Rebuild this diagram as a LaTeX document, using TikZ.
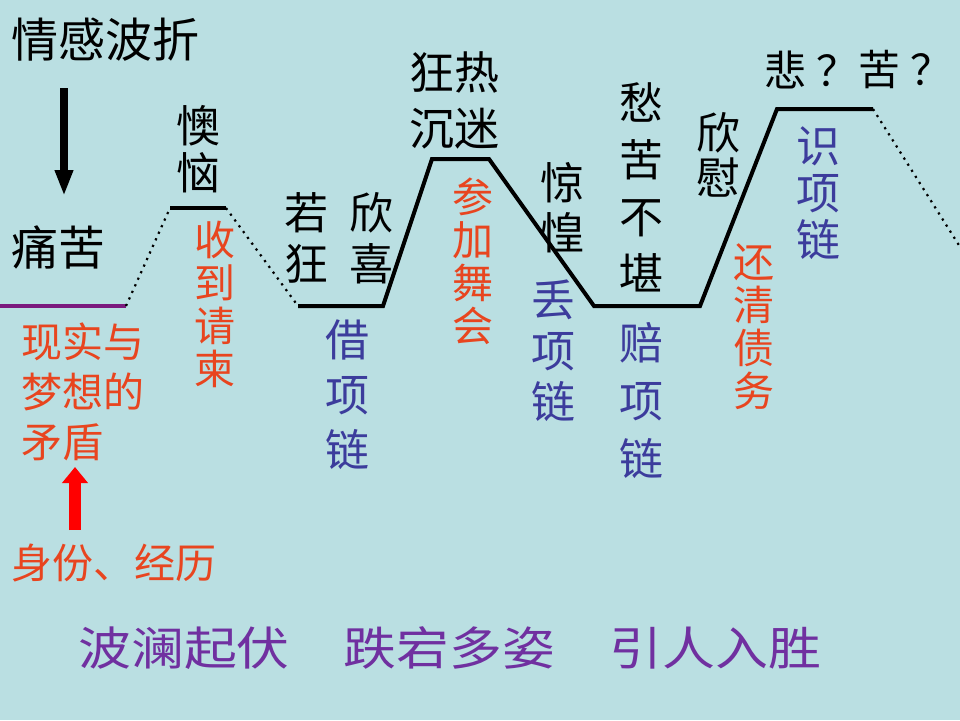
\documentclass[tikz,border=0pt]{standalone}
\usepackage{fontspec}
\setmainfont{Noto Sans CJK SC}
\usetikzlibrary{arrows.meta}
\definecolor{bg}{HTML}{BADFE2}
\definecolor{redtxt}{HTML}{E8451F}
\definecolor{bluetxt}{HTML}{3C3C9C}
\definecolor{purp}{HTML}{7030A0}
\definecolor{linepurp}{HTML}{7B1A7E}
\tikzset{
  lbl/.style={inner sep=0pt, font=\fontsize{44}{44}\selectfont},
  vlbl/.style={inner sep=0pt, align=center, font=\fontsize{44}{#1}\selectfont},
  vlbl/.default=46,
  redv/.style={text=redtxt, font=\fontsize{41}{#1}\selectfont},
  redv/.default=43,
  solidline/.style={line width=4pt, line join=miter},
  dotline/.style={line width=2.2pt, dash pattern=on 2.2pt off 5pt},
}
\begin{document}
\begin{tikzpicture}[x=1pt,y=-1pt]
\fill[bg] (0,0) rectangle (960,720);
\useasboundingbox (0,0) rectangle (960,720);

% curve coordinates
\coordinate (p0) at (0,306);
\coordinate (p1) at (126,306);
\coordinate (p2) at (170,208);
\coordinate (p3) at (226,208);
\coordinate (p4) at (298,306);
\coordinate (p5) at (383,306);
\coordinate (p6) at (432,159);
\coordinate (p7) at (489,159);
\coordinate (p8) at (594,306);
\coordinate (p9) at (700,306);
\coordinate (p10) at (777,109);
\coordinate (p11) at (873,109);
\coordinate (p12) at (962,250);

\draw[line width=4pt, linepurp] (p0) -- (p1);
\draw[dotline] (p1) -- (p2);
\draw[solidline] (p2) -- (p3);
\draw[dotline] (p3) -- (p4);
\draw[solidline] (p4) -- (p5) -- (p6) -- (p7) -- (p8) -- (p9) -- (p10) -- (p11);
\draw[dotline] (p11) -- (p12);

% title and black arrow
\node[lbl, anchor=west, font=\fontsize{47}{47}\selectfont] (title) at (11,40) {情感波折};
\coordinate (bs) at (64,88);
\coordinate (be) at (64,196);
\draw[line width=8pt, -{Triangle[width=17pt,length=26pt]}] (bs) -- (be);

% left labels
\node[lbl, anchor=west, font=\fontsize{47}{47}\selectfont] (tongku) at (11,247) {痛苦};
\node[lbl, anchor=west, text=redtxt, align=left, font=\fontsize{41}{50}\selectfont] (xianshi) at (21,392) {现实与\\梦想的\\矛盾};
\coordinate (ra) at (75,530);
\coordinate (rb) at (75,467);
\draw[red, line width=12pt, -{Triangle[width=25pt,length=16pt]}] (ra) -- (rb);
\node[lbl, anchor=west, text=redtxt, font=\fontsize{41}{41}\selectfont] (shenfen) at (11,563) {身份、经历};

% upper labels
\node[vlbl=47] (aonao) at (198,149) {懊\\恼};
\node[vlbl, redv] (shoudao) at (215,304) {收\\到\\请\\柬};
\node[vlbl=51] (ruokuang) at (306,238) {若\\狂};
\node[vlbl=51] (xinxi) at (371,238) {欣\\喜};
\node[vlbl=55, text=bluetxt] (jie) at (347,395) {借\\项\\链};
\node[lbl, align=center, font=\fontsize{45}{56}\selectfont] (kuangre) at (454,100) {狂热\\沉迷};
\node[vlbl, redv] (canjia) at (473,261) {参\\加\\舞\\会};
\node[vlbl=50] (jinghuang) at (562,208) {惊\\惶};
\node[vlbl=51, text=bluetxt] (diu) at (553,351) {丢\\项\\链};
\node[vlbl=57] (chouku) at (641,187) {愁\\苦\\不\\堪};
\node[vlbl=58, text=bluetxt] (pei) at (641,401) {赔\\项\\链};
\node[vlbl=45] (xinwei) at (718,155) {欣\\慰};
\node[vlbl, redv] (huanqing) at (754,327) {还\\清\\债\\务};
\node[vlbl=47, text=bluetxt] (shi) at (818,193) {识\\项\\链};
\node[lbl, anchor=west, font=\fontsize{42}{42}\selectfont] (bei) at (764,70) {悲\kern10pt？};
\node[lbl, anchor=west, font=\fontsize{42}{42}\selectfont] (ku) at (858,70) {苦\kern10pt？};

% bottom line
\node[lbl, anchor=west, text=purp, font=\fontsize{46}{46}\selectfont] (bottom) at (78,648)
  {\scalebox{1.15}[1]{波澜起伏\hspace{47pt}跌宕多姿\hspace{47pt}引人入胜}};
\end{tikzpicture}
\end{document}
